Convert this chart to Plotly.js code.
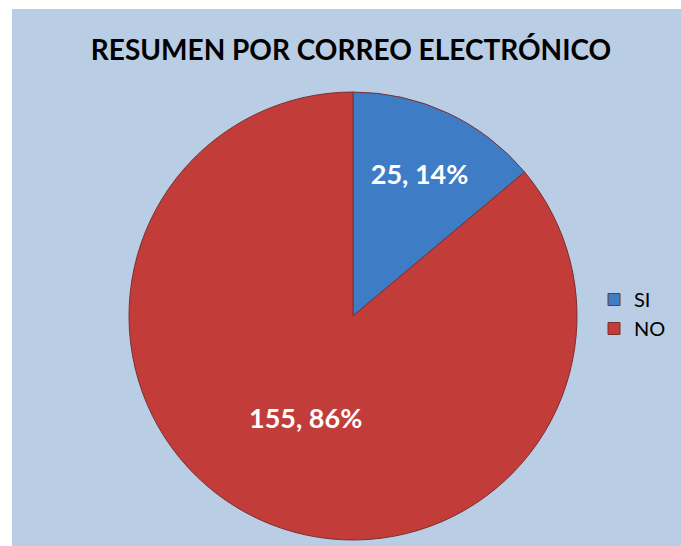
<!DOCTYPE html>
<html>
<head>
<meta charset="utf-8">
<script src="https://cdn.plot.ly/plotly-3.0.1.min.js"></script>
<style>
  html, body { margin: 0; padding: 0; background: #ffffff; }
  #chart { width: 681px; height: 546px; }
</style>
</head>
<body>
<div id="chart"></div>
<script>
// Email summary: answers to "resumen por correo electrónico"
const categories = ['SI', 'NO'];
const counts = [25, 155];
const sliceColors = ['#3f7cc6', '#c23d3a'];

const W = 681, H = 546;
// pie placement in pixels, converted to paper fractions
const cx = 353, cy = 316, r = 224;

const trace = {
  type: 'pie',
  labels: categories,
  values: counts,
  sort: false,
  direction: 'clockwise',
  rotation: 0,
  marker: {
    colors: sliceColors,
    line: { color: '#7a3030', width: 1 }
  },
  texttemplate: '%{value}, %{percent:.0%}',
  textposition: 'inside',
  insidetextorientation: 'horizontal',
  textfont: { family: 'Lato, "Open Sans", sans-serif', size: 27, color: '#ffffff', weight: 'bold' },
  hoverinfo: 'label+value+percent',
  domain: {
    x: [(cx - r) / W, (cx + r) / W],
    y: [(H - cy - r) / H, (H - cy + r) / H]
  }
};

const layout = {
  width: W,
  height: H,
  margin: { l: 0, r: 0, t: 0, b: 0 },
  paper_bgcolor: '#ffffff',
  shapes: [{
    type: 'rect', xref: 'paper', yref: 'paper',
    x0: 12 / W, x1: 1, y0: 0, y1: (H - 9) / H,
    fillcolor: '#b9cde5', line: { width: 0 }, layer: 'below'
  }],
  title: {
    text: 'RESUMEN POR CORREO ELECTRÓNICO',
    font: { family: 'Lato, "Open Sans", sans-serif', size: 28, color: '#000000', weight: 'bold' },
    x: 351 / W, xanchor: 'center',
    y: (H - 50) / H, yanchor: 'middle'
  },
  legend: {
    x: 594 / W, xanchor: 'left',
    y: (H - 314) / H, yanchor: 'middle',
    font: { family: 'Lato, "Open Sans", sans-serif', size: 20, color: '#000000' },
    bgcolor: 'rgba(0,0,0,0)',
    itemwidth: 30
  },
  showlegend: true
};

Plotly.newPlot('chart', [trace], layout, { displayModeBar: false, staticPlot: true });
</script>
</body>
</html>
